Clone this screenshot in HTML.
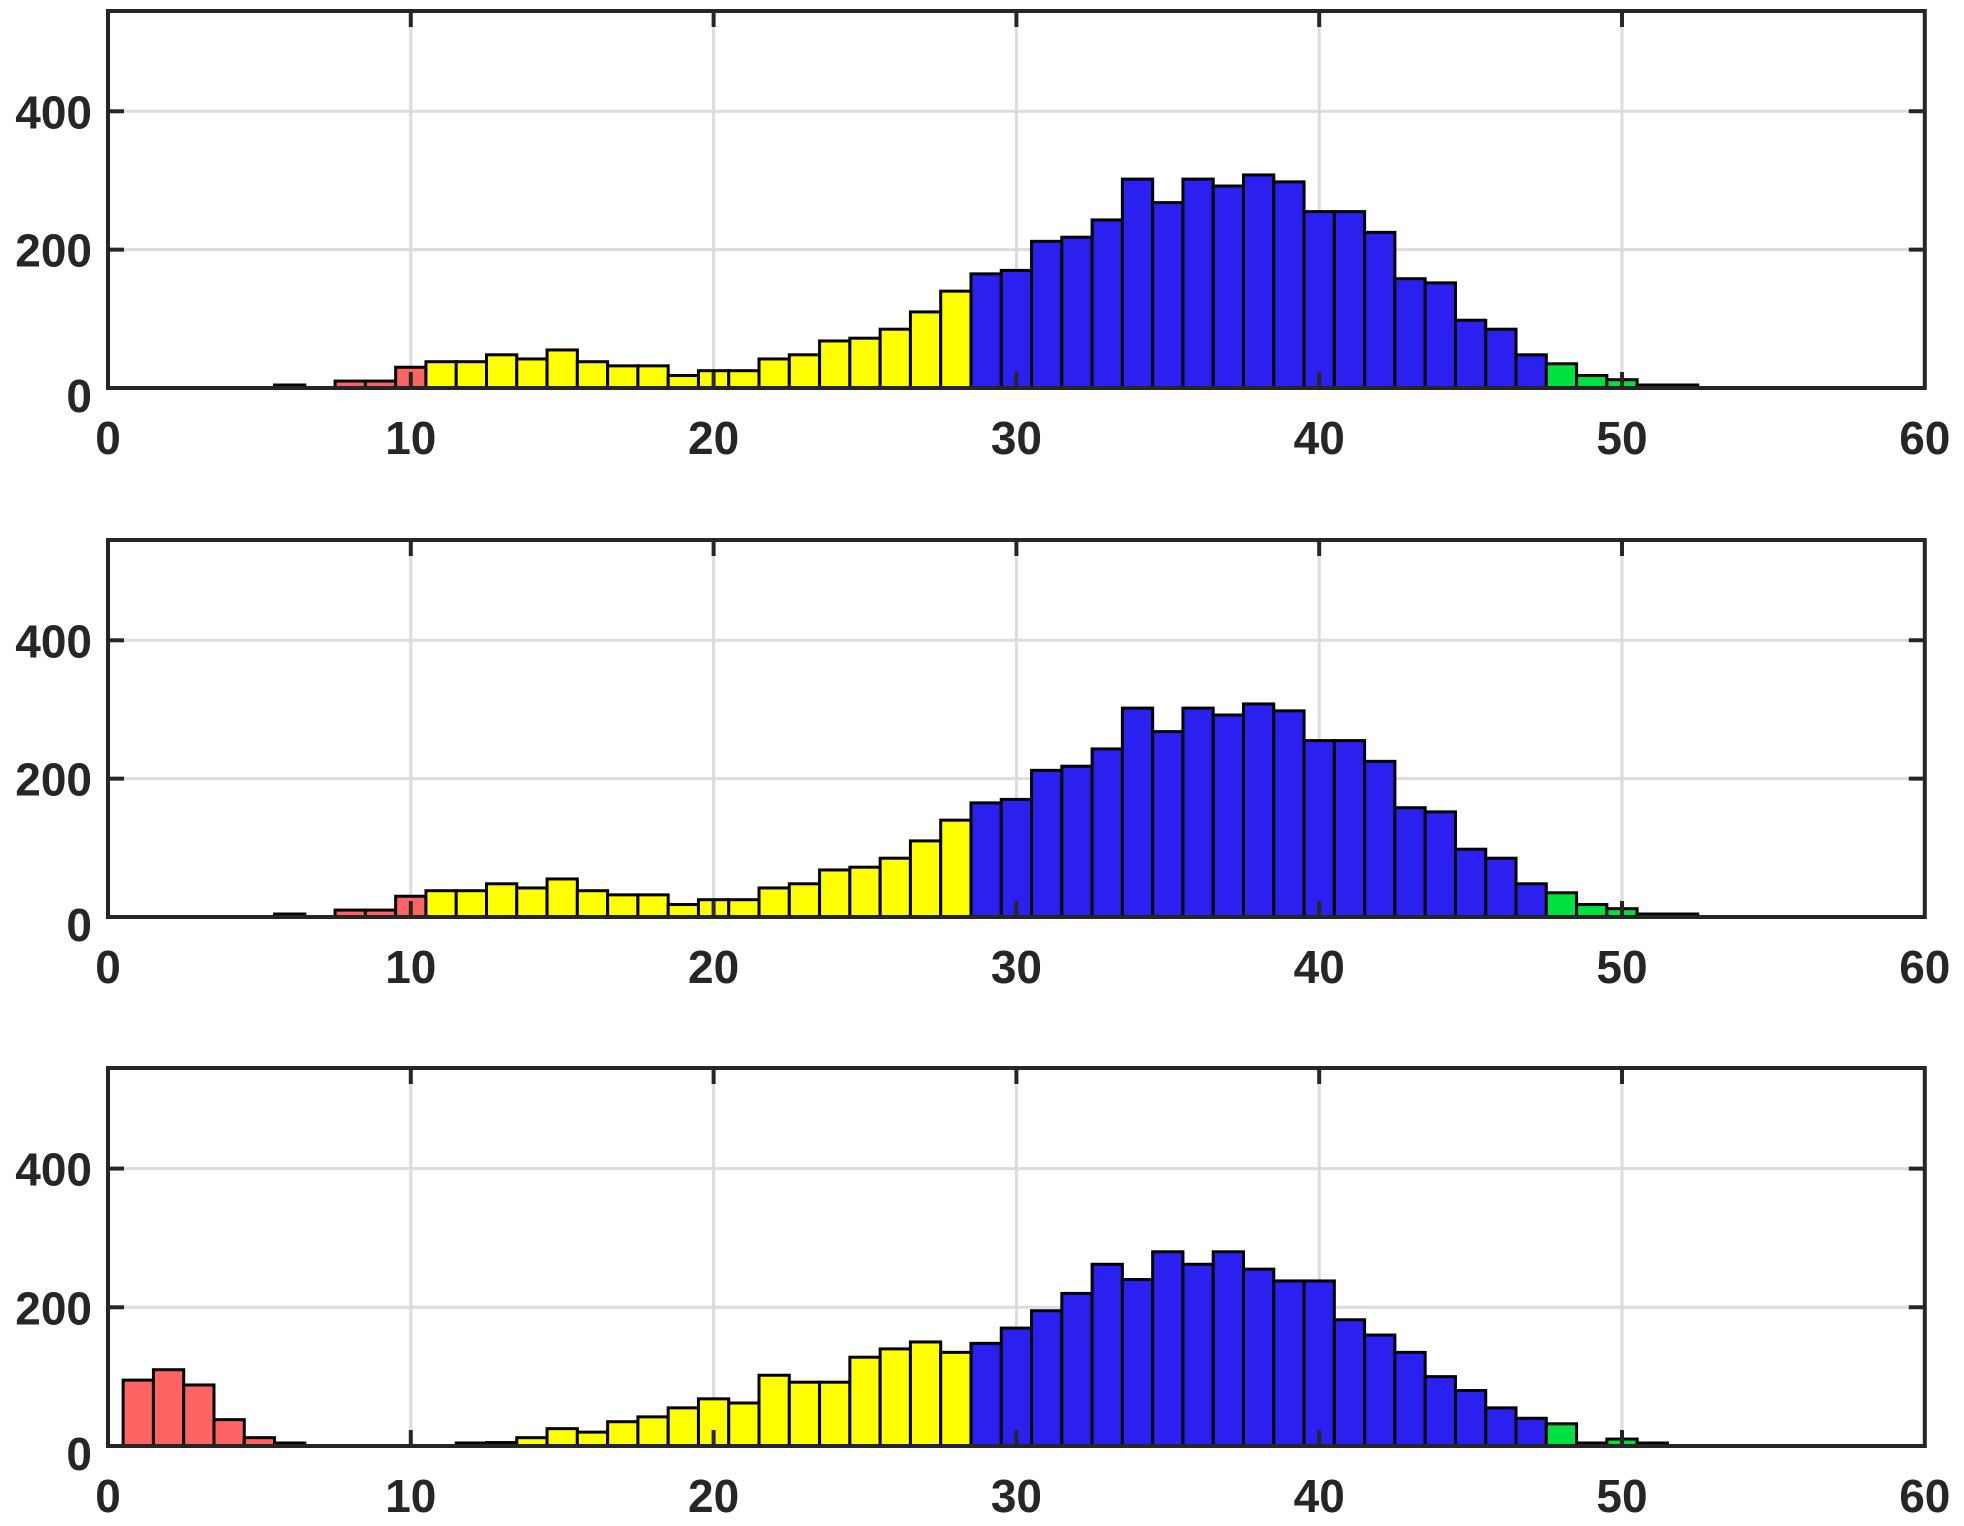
<!DOCTYPE html>
<html><head><meta charset="utf-8"><style>body{margin:0;background:#fff}svg{display:block}text{font-family:"Liberation Sans",sans-serif;font-weight:bold;fill:#262626;font-size:46px}</style></head>
<body>
<svg id="s" width="1964" height="1526" xmlns="http://www.w3.org/2000/svg"></svg>
<script>
const X0=108,SX=30.28,W=60*SX;
const A={6:[3,'k'],8:[10,'r'],9:[10,'r'],10:[30,'r'],11:[38,'y'],12:[38,'y'],13:[48,'y'],14:[42,'y'],15:[55,'y'],16:[38,'y'],17:[32,'y'],18:[32,'y'],19:[18,'y'],20:[25,'y'],21:[25,'y'],22:[42,'y'],23:[48,'y'],24:[68,'y'],25:[72,'y'],26:[85,'y'],27:[110,'y'],28:[140,'y'],29:[165,'b'],30:[170,'b'],31:[212,'b'],32:[218,'b'],33:[243,'b'],34:[302,'b'],35:[268,'b'],36:[302,'b'],37:[292,'b'],38:[308,'b'],39:[298,'b'],40:[255,'b'],41:[255,'b'],42:[225,'b'],43:[158,'b'],44:[152,'b'],45:[98,'b'],46:[85,'b'],47:[48,'b'],48:[35,'g'],49:[18,'g'],50:[12,'g'],51:[4,'k'],52:[4,'k']};
const B={1:[95,'r'],2:[110,'r'],3:[88,'r'],4:[38,'r'],5:[12,'r'],6:[4,'k'],12:[3,'k'],13:[5,'y'],14:[12,'y'],15:[25,'y'],16:[20,'y'],17:[35,'y'],18:[42,'y'],19:[55,'y'],20:[68,'y'],21:[62,'y'],22:[102,'y'],23:[92,'y'],24:[92,'y'],25:[128,'y'],26:[140,'y'],27:[150,'y'],28:[135,'y'],29:[148,'b'],30:[170,'b'],31:[195,'b'],32:[220,'b'],33:[262,'b'],34:[240,'b'],35:[280,'b'],36:[262,'b'],37:[280,'b'],38:[255,'b'],39:[238,'b'],40:[238,'b'],41:[182,'b'],42:[160,'b'],43:[135,'b'],44:[100,'b'],45:[80,'b'],46:[55,'b'],47:[40,'b'],48:[32,'g'],49:[3,'k'],50:[10,'g'],51:[3,'k']};
const C={r:'#ff6464',y:'#ffff00',b:'#2a20f0',g:'#00e040',k:'#222'};
let h='';
function plot(top,zero,d){
 const py=(zero-top)/545;
 for(const v of [200,400]){const y=zero-v*py;h+=`<line x1="${X0}" x2="${X0+W}" y1="${y}" y2="${y}" stroke="#dcdcdc" stroke-width="3"/>`;}
 for(let i=10;i<60;i+=10){const x=X0+i*SX;h+=`<line x1="${x}" x2="${x}" y1="${top}" y2="${zero}" stroke="#dcdcdc" stroke-width="3"/>`;}
 for(const k in d){const [v,c]=d[k];const i=+k;const x1=X0+(i-0.5)*SX,x2=X0+(i+0.5)*SX;const hh=Math.max(v*py,3);
  h+=`<rect x="${x1}" y="${zero-hh}" width="${x2-x1}" height="${hh}" fill="${C[c]}" stroke="#000" stroke-width="3"/>`;}
 h+=`<rect x="${X0}" y="${top}" width="${W}" height="${zero-top}" fill="none" stroke="#262626" stroke-width="4"/>`;
 for(let i=10;i<60;i+=10){const x=X0+i*SX;h+=`<line x1="${x}" x2="${x}" y1="${top}" y2="${top+16}" stroke="#262626" stroke-width="4"/><line x1="${x}" x2="${x}" y1="${zero}" y2="${zero-16}" stroke="#262626" stroke-width="4"/>`;}
 for(const v of [200,400]){const y=zero-v*py;h+=`<line x1="${X0}" x2="${X0+16}" y1="${y}" y2="${y}" stroke="#262626" stroke-width="4"/><line x1="${X0+W}" x2="${X0+W-16}" y1="${y}" y2="${y}" stroke="#262626" stroke-width="4"/>`;}
 for(const v of [0,200,400]){const y=zero-v*py+(v==0?24:17);h+=`<text x="92" y="${y}" text-anchor="end">${v}</text>`;}
 for(let i=0;i<=60;i+=10){h+=`<text x="${X0+i*SX}" y="${zero+66}" text-anchor="middle">${i}</text>`;}
}
plot(11,388,A);plot(540,917,A);plot(1068,1446,B);
document.getElementById('s').innerHTML=h;
</script>
</body></html>
